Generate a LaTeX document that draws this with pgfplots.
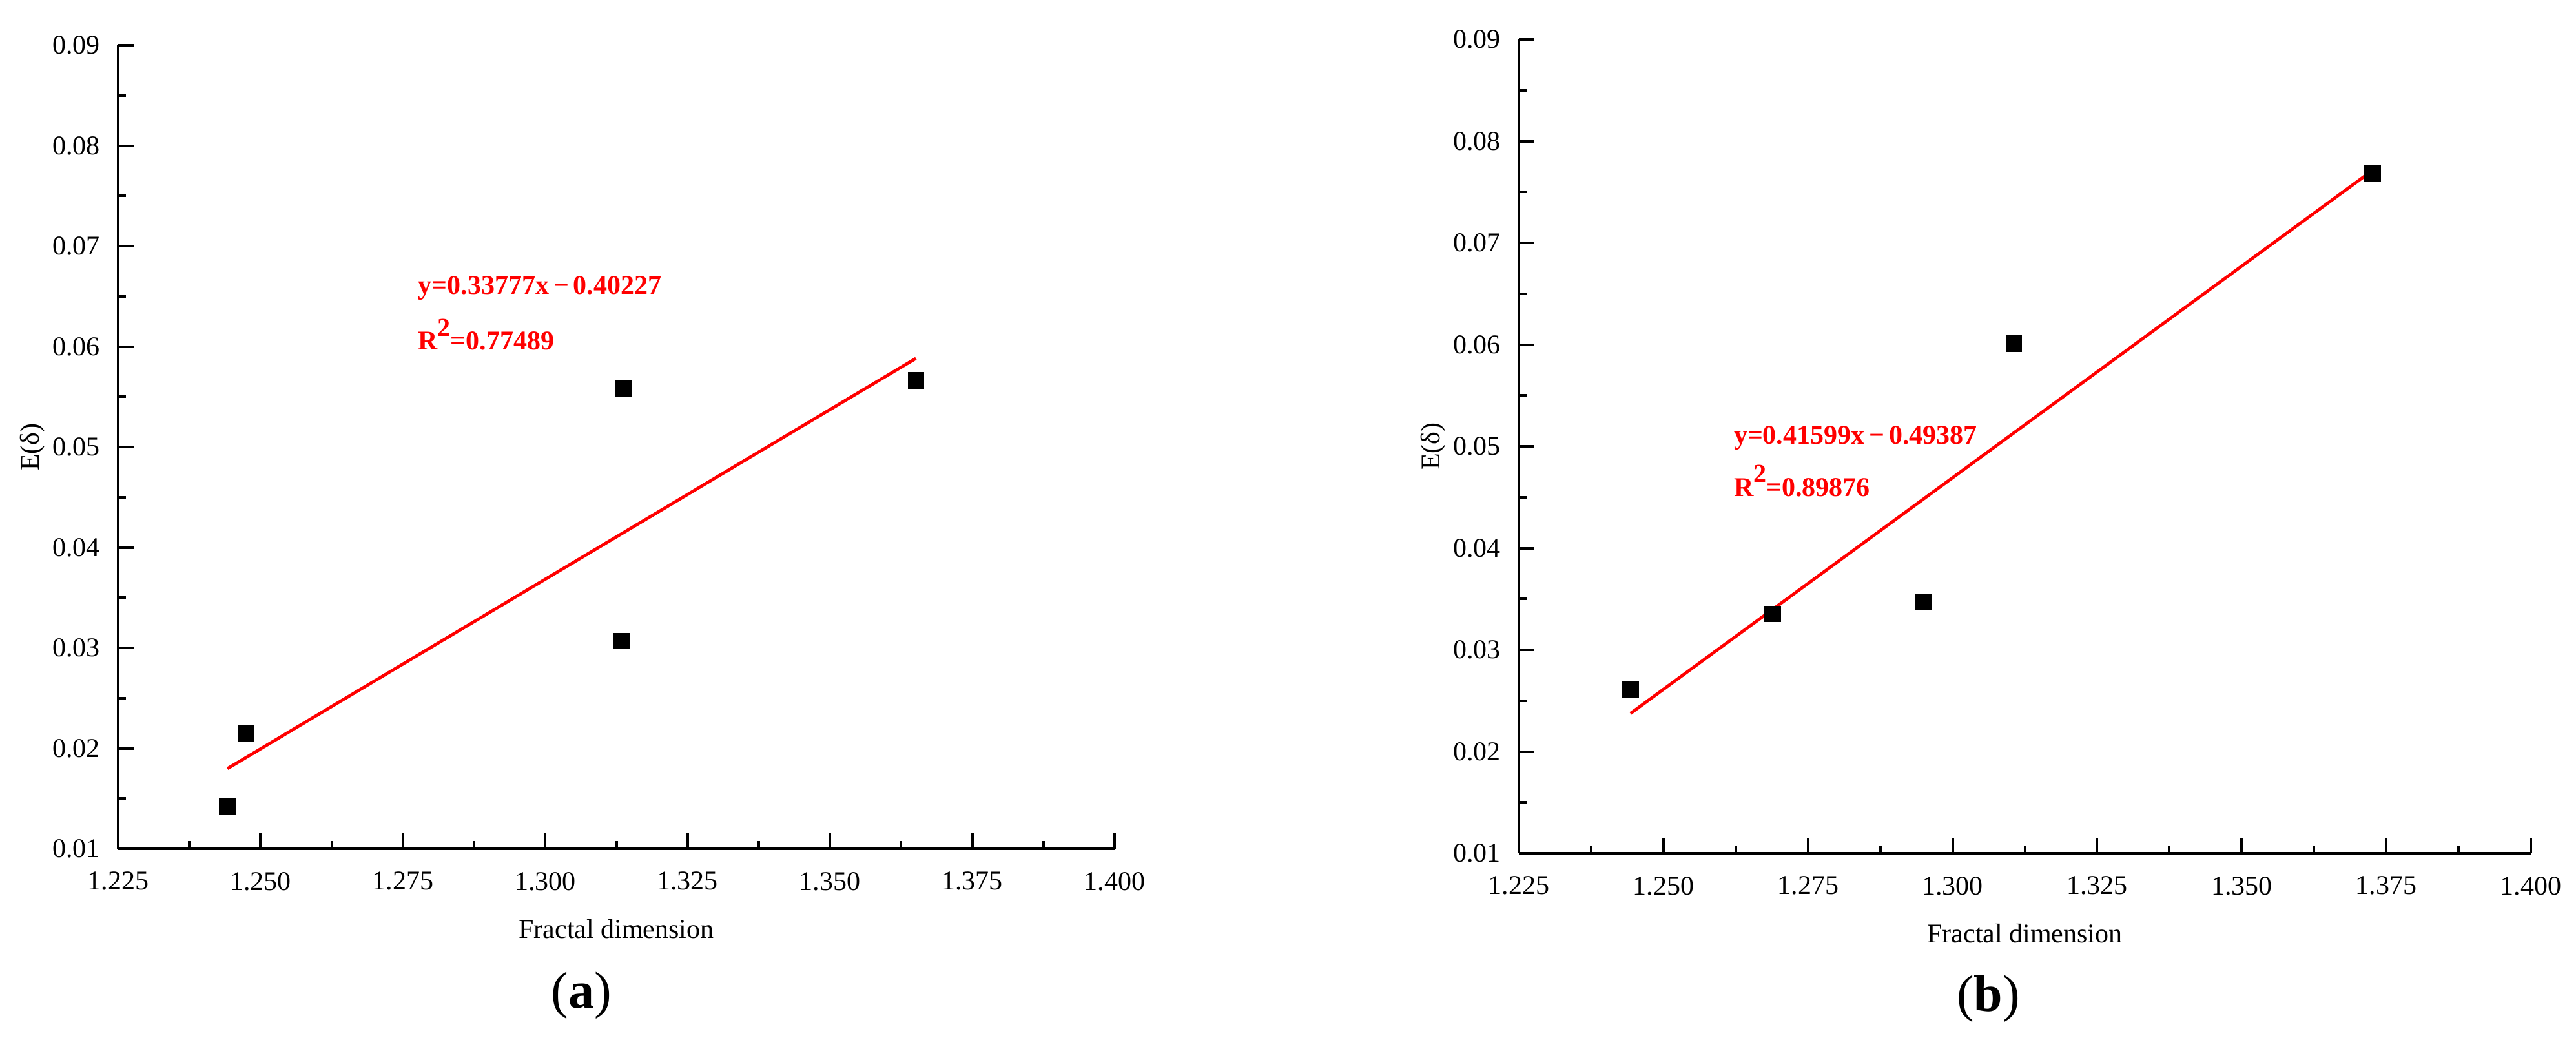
\documentclass[border=0pt]{standalone}
\usepackage{fontspec}
\setmainfont{Liberation Serif}
\usepackage{pgfplots}
\pgfplotsset{compat=1.18}
\definecolor{fitred}{RGB}{255,0,0}
\pgfplotsset{
  fdstyle/.style={
    scale only axis,
    axis lines*=left,
    axis line style={line width=1pt, black},
    tick align=inside,
    major tick length=6pt,
    minor tick length=3pt,
    every tick/.style={line width=1pt, black},
    xmin=1.225, xmax=1.400, ymin=0.01, ymax=0.09,
    xtick={1.225,1.250,1.275,1.300,1.325,1.350,1.375,1.400},
    ytick={0.01,0.02,0.03,0.04,0.05,0.06,0.07,0.08,0.09},
    minor x tick num=1,
    minor y tick num=1,
    scaled x ticks=false,
    scaled y ticks=false,
    /pgf/number format/assume math mode=true,
    x tick label style={/pgf/number format/fixed,/pgf/number format/fixed zerofill,/pgf/number format/precision=3, yshift=-5.5pt},
    y tick label style={/pgf/number format/fixed,/pgf/number format/fixed zerofill,/pgf/number format/precision=2, xshift=-3.5pt},
    tick label style={font=\fontsize{10.5}{12}\selectfont},
    label style={font=\fontsize{10.5}{12}\selectfont},
    xlabel={Fractal dimension},
    ylabel={E(δ)},
    xlabel style={at={(axis description cs:0.5,0)}, anchor=center, yshift=-31pt},
    ylabel style={at={(axis description cs:0,0.5)}, anchor=center, yshift=33.25pt},
    clip=false,
    anchor=south west,
  },
}
\tikzset{eqstyle/.style={anchor=base west, inner sep=0pt, text=fitred, font=\fontsize{10.5}{12}\selectfont\bfseries}}
\begin{document}
\begin{tikzpicture}
\path[use as bounding box] (0,0) rectangle (997.25pt,-401.5pt);
% ---------------- (a) ----------------
\begin{axis}[fdstyle, at={(45.75pt,-328.5pt)}, width=385.75pt, height=311pt]
\addplot[fitred, line width=1.2pt] coordinates {(1.2442,0.017983) (1.3651,0.058820)};
\addplot[only marks, mark=square*, mark size=3pt, black] coordinates {
  (1.2442,0.01425) (1.2474,0.02145) (1.3134,0.03067) (1.3138,0.05583) (1.3651,0.05663)};
\node[eqstyle] at (axis cs:1.2776,0.06524) {y=0.33777x\,−\,0.40227};
\node[eqstyle] at (axis cs:1.2776,0.05965) {R\raisebox{1.1ex}{\fontsize{10}{10}\selectfont 2}=0.77489};
\end{axis}
% ---------------- (b) ----------------
\begin{axis}[fdstyle, at={(588pt,-330.25pt)}, width=391.75pt, height=315pt]
\addplot[fitred, line width=1.2pt] coordinates {(1.2443,0.023746) (1.3726,0.077118)};
\addplot[only marks, mark=square*, mark size=3pt, black] coordinates {
  (1.2443,0.02611) (1.2689,0.03353) (1.2949,0.03468) (1.3106,0.06010) (1.3726,0.07680)};
\node[eqstyle] at (axis cs:1.2621,0.05025) {y=0.41599x\,−\,0.49387};
\node[eqstyle] at (axis cs:1.2621,0.04511) {R\raisebox{1.1ex}{\fontsize{10}{10}\selectfont 2}=0.89876};
\end{axis}
\node[font=\fontsize{20}{24}\selectfont] at (225pt,-385.25pt) {(\textbf{a})};
\node[font=\fontsize{20}{24}\selectfont] at (769.75pt,-386.5pt) {(\textbf{b})};
\end{tikzpicture}
\end{document}
